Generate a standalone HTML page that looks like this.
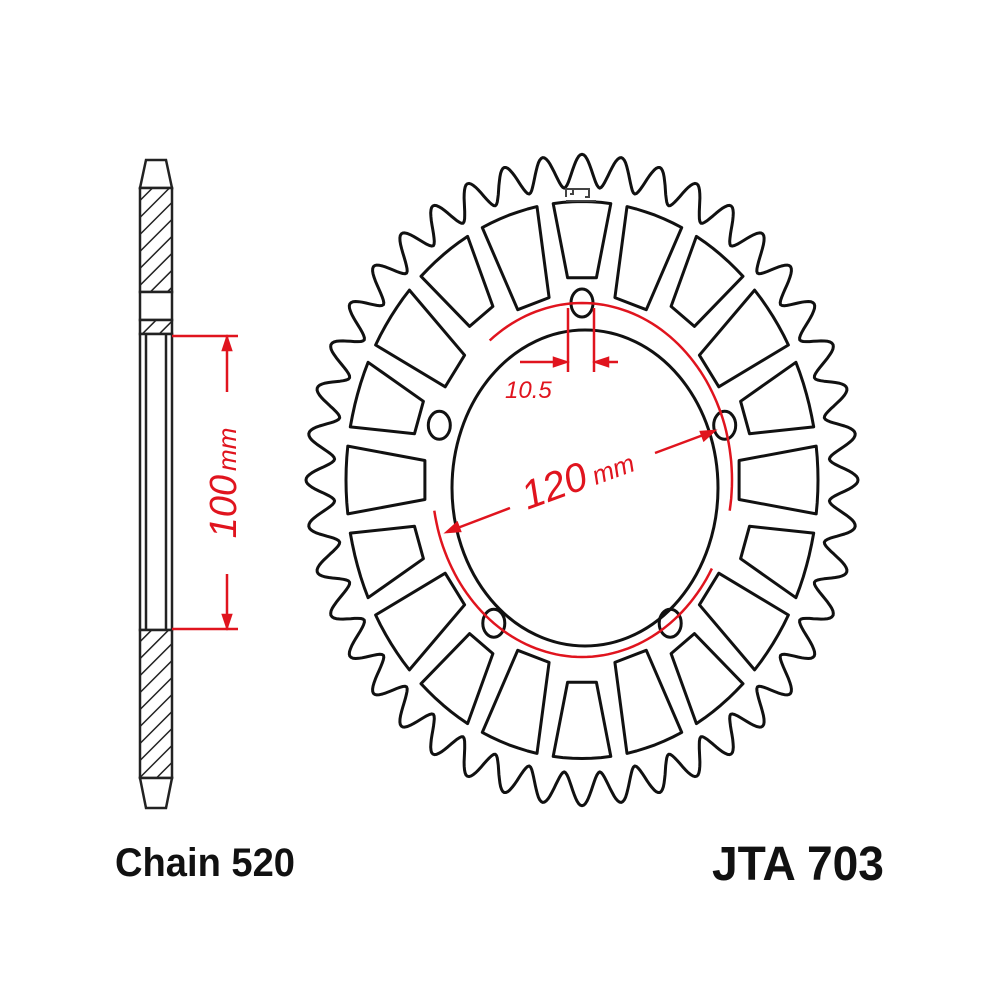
<!DOCTYPE html>
<html><head><meta charset="utf-8"><style>body{margin:0;background:#fff}svg{display:block}</style></head>
<body>
<svg id="s" width="1000" height="1000" viewBox="0 0 1000 1000" xmlns="http://www.w3.org/2000/svg">
<defs>
<pattern id="h" patternUnits="userSpaceOnUse" width="12" height="12" patternTransform="rotate(45)">
<rect width="12" height="12" fill="#fff"/><line x1="0" y1="0" x2="0" y2="12" stroke="#222" stroke-width="3"/>
</pattern>
</defs>
<g stroke="#222" stroke-width="2.5">
<path d="M146,160 L166,160 L172,188 L140,188 Z" fill="#fff"/>
<rect x="140" y="188" width="32" height="104" fill="url(#h)"/>
<rect x="140" y="292" width="32" height="28" fill="#fff"/>
<rect x="140" y="320" width="32" height="14" fill="url(#h)"/>
<rect x="140" y="334" width="32" height="296" fill="#fff"/>
<line x1="146" y1="334" x2="146" y2="630"/><line x1="166" y1="334" x2="166" y2="630"/>
<rect x="140" y="630" width="32" height="148" fill="url(#h)"/>
<path d="M140,778 L172,778 L166,808 L146,808 Z" fill="#fff"/>
</g>
<g stroke="#e0141e" stroke-width="2.5" fill="none">
<line x1="172" y1="336" x2="238" y2="336"/><line x1="172" y1="629" x2="238" y2="629"/>
<line x1="227" y1="336" x2="227" y2="392"/><line x1="227" y1="574" x2="227" y2="629"/>
<path d="M223,350 L227,338 L231,350Z" fill="#e0141e"/><path d="M223,615 L227,627 L231,615Z" fill="#e0141e"/>
</g>
<text transform="translate(236,483) rotate(-90)" text-anchor="middle" font-family="Liberation Sans,sans-serif" font-style="italic" fill="#e0141e"><tspan font-size="38">100</tspan><tspan font-size="26" dx="4">mm</tspan></text>
<g id="spr" fill="none" stroke="#111" stroke-width="3" stroke-linejoin="round"></g>
<g stroke="#e0141e" stroke-width="2.5" fill="none">
<path id="pcd"/><path id="pcd2"/>
<line x1="568" y1="308" x2="568" y2="372"/><line x1="594" y1="308" x2="594" y2="372"/>
<line x1="520" y1="362" x2="566" y2="362"/><line x1="596" y1="362" x2="618" y2="362"/>
<path d="M554,358 L566,362 L554,366Z M608,358 L596,362 L608,366Z" fill="#e0141e"/>
<line x1="447" y1="532" x2="510" y2="508"/><line x1="655" y1="453" x2="714" y2="431"/>
<path d="M447,532 L457,523 L460,531Z M714,431 L704,440 L701,432Z" fill="#e0141e"/>
</g>
<text x="505" y="398" font-family="Liberation Sans,sans-serif" font-style="italic" font-size="24" fill="#e0141e">10.5</text>
<text transform="translate(582,490) rotate(-20)" text-anchor="middle" font-family="Liberation Sans,sans-serif" font-style="italic" fill="#e0141e"><tspan font-size="40">120</tspan><tspan font-size="26" dx="6">mm</tspan></text>
<g stroke="#444" stroke-width="2" fill="none"><path d="M566,197 v-8 h7 v5 h-3 M582,189 h7 v8 h-4 M573,189 h9 M566,201 h30"/></g>
<text x="115" y="876" font-family="Liberation Sans,sans-serif" font-weight="bold" font-size="40" textLength="180" lengthAdjust="spacingAndGlyphs" fill="#111">Chain 520</text>
<text x="712" y="880" font-family="Liberation Sans,sans-serif" font-weight="bold" font-size="48" textLength="172" lengthAdjust="spacingAndGlyphs" fill="#111">JTA 703</text>
</svg>
<script>
(function(){
var cx=582,cy=480,sy=1.18,g=document.getElementById('spr');
function P(r,a){a=a*Math.PI/180;return (cx+r*Math.cos(a)).toFixed(1)+','+(cy+sy*r*Math.sin(a)).toFixed(1);}
function add(tag,attrs){var e=document.createElementNS('http://www.w3.org/2000/svg',tag);for(var k in attrs)e.setAttribute(k,attrs[k]);g.appendChild(e);return e;}
var n=44,pts=[];for(var i=0;i<n*24;i++){var a=-90+360*i/(n*24);var p=(i%24)/24;var f=Math.pow((1-Math.cos(2*Math.PI*p))/2,0.9);pts.push(P(248+28*f,a+360/n/2));}
add('path',{d:'M'+pts.join(' L')+'Z'});
add('ellipse',{cx:cx+3,cy:cy+8,rx:133,ry:158});
for(var k=0;k<5;k++){var a=-90+72*k;var q=P(150,a).split(',');add('ellipse',{cx:q[0],cy:q[1],rx:11,ry:14});}
for(var k=0;k<20;k++){var c=-90+18*k;var ri=(k%2==0)?172:158,ro=236;
var w1=7.0,w0=(k%2==0)?4.8:6.0;var d='M'+P(ri,c-w0);
for(var t=0;t<=6;t++)d+=' L'+P(ro,c-w1+2*w1*t/6);
d+=' L'+P(ri,c+w0)+' Z';add('path',{d:d});}
function arc(a0,a1){var s='';for(var a=a0;a<=a1;a+=2){s+=(s?' L':'M')+P(150,a);}return s;}
document.getElementById('pcd').setAttribute('d',arc(-128,10));
document.getElementById('pcd2').setAttribute('d',arc(30,170));
})();
</script>
</body></html>
